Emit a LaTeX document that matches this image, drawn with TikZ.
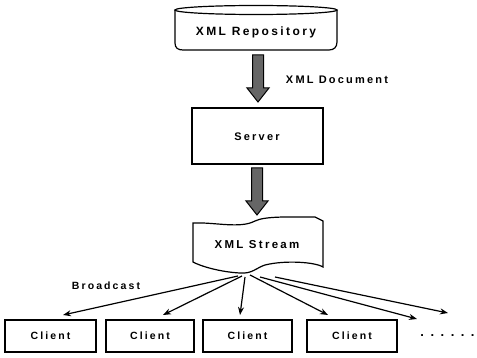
\documentclass[tikz,border=0pt]{standalone}
\usepackage{fontspec}
\setmainfont{Liberation Sans}
\newfontfamily\lab[LetterSpace=20]{Liberation Sans}
\usetikzlibrary{arrows.meta,calc}
\begin{document}
\begin{tikzpicture}[x=1pt,y=-1pt,
  lbl/.style={font=\lab\bfseries\fontsize{11}{13}\selectfont, inner sep=0pt},
  boxline/.style={draw=black, line width=1.2pt},
  clientbox/.style={boxline, minimum height=32pt, inner sep=0pt, font=\lab\bfseries\fontsize{10.5}{12}\selectfont},
  thinarr/.style={line width=1.2pt, -{Stealth[length=8pt,width=6pt]}},
  bigarr/.style={draw=black, line width=1pt, fill=black!60}]
\useasboundingbox (0,0) rectangle (477,358);
% repository
\draw[boxline] (175,10) -- (175,43) .. controls (175,48) and (178,50) .. (183,50) -- (329,50) .. controls (334,50) and (337,47) .. (337,42) -- (337,10);
\draw[boxline] (256,10) ellipse [x radius=81pt, y radius=4.5pt];
\node[lbl, font=\lab\bfseries\fontsize{12}{14}\selectfont] (repo) at (256,32) {XML Repository};
% server
\node[boxline, minimum width=131pt, minimum height=56pt] (server) at (257.5,136) {};
\node[lbl] (servertxt) at (257,137) {Server};
% stream
\draw[boxline] (193,223) .. controls (215,222) and (240,229) .. (255,221) .. controls (265,216) and (290,217) .. (315,217) -- (323,221) -- (323,267) .. controls (315,262) and (285,260) .. (265,265) .. controls (256,268) and (252,274) .. (240,273) .. controls (220,272) and (200,266) .. (193,262) -- cycle;
\node[lbl, font=\lab\bfseries\fontsize{11.5}{13}\selectfont] (stream) at (257,245) {XML Stream};
% big arrows
\coordinate (a1s) at (258,55);
\coordinate (a1e) at (258,102);
\coordinate (a2s) at (257,168);
\coordinate (a2e) at (257,215);
\foreach \s/\e in {a1s/a1e, a2s/a2e}{
  \path[bigarr] let \p1=(\s), \p2=(\e) in
    (\x1-5.5pt,\y1) -- (\x1+5.5pt,\y1) -- (\x1+5.5pt,\y2+14pt) -- (\x1+11pt,\y2+14pt)
    -- (\x2,\y2) -- (\x1-11pt,\y2+14pt) -- (\x1-5.5pt,\y2+14pt) -- cycle;
}
\node[lbl] (doclbl) at (337,80) {XML Document};
% clients
\node[clientbox, minimum width=91pt] (c1) at (50.5,336) {Client};
\node[clientbox, minimum width=88pt] (c2) at (150,336) {Client};
\node[clientbox, minimum width=89pt] (c3) at (247.5,336) {Client};
\node[clientbox, minimum width=90pt] (c4) at (352,336) {Client};
\node[lbl, font=\bfseries\fontsize{13}{14}\selectfont] (dots) at (447.5,336) {.\hspace{6.5pt}.\hspace{6.5pt}.\hspace{6.5pt}.\hspace{6.5pt}.\hspace{6.5pt}.};
\node[lbl, font=\lab\bfseries\fontsize{10.5}{12}\selectfont] (bc) at (106,286) {Broadcast};
% broadcast arrows
\coordinate (s1) at (238,276); \coordinate (t1) at (63,315);
\coordinate (s2) at (242,276); \coordinate (t2) at (163,315);
\coordinate (s3) at (245,277); \coordinate (t3) at (240,315);
\coordinate (s4) at (250,275); \coordinate (t4) at (328,315);
\coordinate (s5) at (260,277); \coordinate (t5) at (417,319);
\coordinate (s6) at (275,277); \coordinate (t6) at (448,313);
\foreach \i in {1,...,6}{\draw[thinarr] (s\i) -- (t\i);}
\end{tikzpicture}
\end{document}
